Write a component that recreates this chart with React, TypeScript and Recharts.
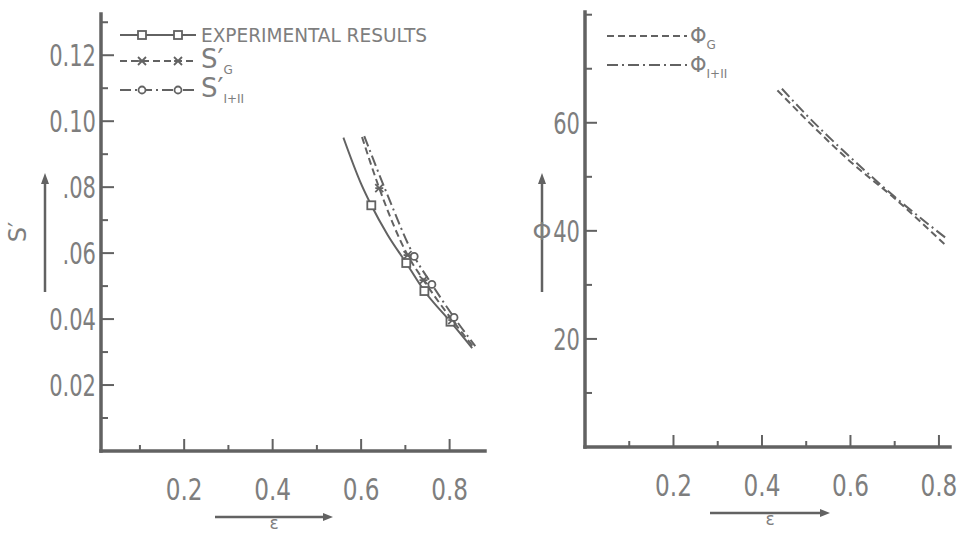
import React from 'react';
import { ComposedChart, Line, Scatter, XAxis, YAxis, Legend } from 'recharts';

const INK = '#626262';
const TXT = '#7e7e7e';
const FONT = "'DejaVu Sans Condensed', 'DejaVu Sans', sans-serif";

// epsilon axis (both panels)
const epsTicks = [0.1, 0.2, 0.3, 0.4, 0.5, 0.6, 0.7, 0.8];
const epsLabelVals = [0.2, 0.4, 0.6, 0.8];
const epsLabelText = ['0.2', '0.4', '0.6', '0.8'];

// S' axis (left panel)
const sTicks = [0.01, 0.02, 0.03, 0.04, 0.05, 0.06, 0.07, 0.08, 0.09, 0.1, 0.11, 0.12, 0.13];
const sLabelVals = [0.02, 0.04, 0.06, 0.08, 0.1, 0.12];
const sLabelText = ['0.02', '0.04', '.06', '.08', '0.10', '0.12'];

// Phi axis (right panel)
const phiTicks = [10, 20, 30, 40, 50, 60, 70, 80];
const phiLabelVals = [20, 40, 60];
const phiLabelText = ['20', '40', '60'];

// experimental results: smooth curve and measured points
const expEps = [0.56, 0.6, 0.623, 0.66, 0.702, 0.743, 0.802, 0.851];
const expS = [0.095, 0.081, 0.0745, 0.0655, 0.057, 0.0485, 0.0392, 0.0312];
const expPtEps = [0.623, 0.702, 0.743, 0.802];
const expPtS = [0.0745, 0.057, 0.0485, 0.0392];

// S'_G
const sgEps = [0.602, 0.641, 0.705, 0.741, 0.806, 0.856];
const sgS = [0.0952, 0.0797, 0.0594, 0.0518, 0.0397, 0.0312];
const sgPtEps = [0.641, 0.705, 0.741, 0.806];
const sgPtS = [0.0797, 0.0594, 0.0518, 0.0397];

// S'_I+II
const s12Eps = [0.607, 0.66, 0.72, 0.76, 0.81, 0.858];
const s12S = [0.0955, 0.0775, 0.059, 0.0505, 0.0405, 0.0318];
const s12PtEps = [0.72, 0.76, 0.81];
const s12PtS = [0.059, 0.0505, 0.0405];

// Phi_G and Phi_I+II
const phiGEps = [0.435, 0.5, 0.6, 0.7, 0.817];
const phiG = [66.0, 60.6, 52.8, 46.0, 37.2];
const phi12Eps = [0.445, 0.5, 0.6, 0.7, 0.817];
const phi12 = [66.3, 61.5, 53.6, 46.3, 38.6];

const pts = (xs: number[], ys: number[]) => xs.map((x, i) => ({ x, y: ys[i] }));

const frameLine = { stroke: INK, strokeWidth: 3.5, strokeLinecap: 'square' as const };
const DASH = '7 4';
const DASHDOT = '11 4 2 4';

function findLabel(vals: number[], v: number) {
  return vals.findIndex((u) => Math.abs(u - v) < 1e-9);
}

// narrow, tall numerals like the stencil lettering of the original
function Num({ x, y, anchor, sx = 0.78, children }: any) {
  return (
    <text
      transform={`translate(${x},${y}) scale(${sx},1)`}
      textAnchor={anchor}
      fill={TXT}
      fontSize={30}
      fontFamily={FONT}
    >
      {children}
    </text>
  );
}

function LeftTick(props: any) {
  const { x, y, payload, vals, texts, long, short } = props;
  const i = findLabel(vals, payload.value);
  return (
    <g>
      <line x1={x} x2={x + (i >= 0 ? long : short)} y1={y} y2={y} stroke={INK} strokeWidth={2} />
      {i >= 0 && (
        <Num x={x - 5} y={y + 11} anchor="end">
          {texts[i]}
        </Num>
      )}
    </g>
  );
}

function BottomTick(props: any) {
  const { x, y, payload } = props;
  const i = findLabel(epsLabelVals, payload.value);
  return (
    <g>
      <line x1={x} x2={x} y1={y} y2={y - (i >= 0 ? 12 : 6)} stroke={INK} strokeWidth={2} />
      {i >= 0 && (
        <Num x={x} y={y + 49} anchor="middle" sx={0.86}>
          {epsLabelText[i]}
        </Num>
      )}
    </g>
  );
}

function EpsLabel({ viewBox, from, to }: any) {
  const { x, y } = viewBox;
  const ay = y + 66;
  return (
    <g>
      <line x1={x + from} x2={x + to - 8} y1={ay} y2={ay} stroke={INK} strokeWidth={2.5} />
      <polygon points={`${x + to},${ay} ${x + to - 10},${ay - 4} ${x + to - 10},${ay + 4}`} fill={INK} />
      <text x={x + (from + to) / 2} y={y + 78} textAnchor="middle" fill={TXT} fontSize={17} fontFamily="'DejaVu Sans', sans-serif">
        ε
      </text>
    </g>
  );
}

function VertLabel({ viewBox, dx, symbol, sx, rotate }: any) {
  const ax = viewBox.x + viewBox.width + dx;
  return (
    <g>
      <line x1={ax} x2={ax} y1={183} y2={292} stroke={INK} strokeWidth={2.5} />
      <polygon points={`${ax},${173} ${ax - 4},${184} ${ax + 4},${184}`} fill={INK} />
      <text
        x={ax + sx}
        y={240}
        textAnchor="middle"
        fill={TXT}
        fontSize={24}
        fontFamily="'DejaVu Sans', sans-serif"
        transform={rotate ? `rotate(-90 ${ax + sx} 232)` : undefined}
      >
        {symbol}
      </text>
    </g>
  );
}

function Square({ cx, cy }: any) {
  return <rect x={cx - 4} y={cy - 4} width={8} height={8} fill="#fff" stroke={INK} strokeWidth={1.8} />;
}
function Cross({ cx, cy }: any) {
  return (
    <g stroke={INK} strokeWidth={1.8}>
      <line x1={cx - 4} x2={cx + 4} y1={cy - 4} y2={cy + 4} />
      <line x1={cx - 4} x2={cx + 4} y1={cy + 4} y2={cy - 4} />
      <line x1={cx - 4} x2={cx + 4} y1={cy} y2={cy} />
    </g>
  );
}
function Ring({ cx, cy }: any) {
  return <circle cx={cx} cy={cy} r={3.5} fill="#fff" stroke={INK} strokeWidth={1.8} />;
}

function Sym({ base, sub, size = 26 }: { base: string; sub: string; size?: number }) {
  return (
    <>
      <tspan fontSize={size}>{base}</tspan>
      <tspan fontSize={12} dy={6}>{sub}</tspan>
    </>
  );
}

function LeftLegend() {
  const rows = [
    { dash: undefined, Mark: Square, y: 14, label: 'EXPERIMENTAL RESULTS' },
    { dash: DASH, Mark: Cross, y: 40, label: null, sym: { base: 'S\u2032', sub: 'G' } },
    { dash: DASHDOT, Mark: Ring, y: 69, label: null, sym: { base: 'S\u2032', sub: 'I+II' } },
  ];
  return (
    <svg width={320} height={90} style={{ overflow: 'visible' }}>
      {rows.map((r, k) => (
        <g key={k}>
          <line x1={0} x2={76} y1={r.y} y2={r.y} stroke={INK} strokeWidth={2} strokeDasharray={r.dash} />
          <r.Mark cx={22} cy={r.y} />
          <r.Mark cx={58} cy={r.y} />
          {r.label ? (
            <text x={81} y={r.y + 7} fill={TXT} fontSize={19} fontFamily={FONT} textLength={226} lengthAdjust="spacingAndGlyphs">
              {r.label}
            </text>
          ) : (
            <text x={81} y={r.y + 7} fill={TXT} fontFamily="'DejaVu Sans', sans-serif">
              <Sym base={r.sym!.base} sub={r.sym!.sub} />
            </text>
          )}
        </g>
      ))}
    </svg>
  );
}

function RightLegend() {
  const rows = [
    { dash: DASH, y: 11, sub: 'G' },
    { dash: DASHDOT, y: 40, sub: 'I+II' },
  ];
  return (
    <svg width={140} height={60} style={{ overflow: 'visible' }}>
      {rows.map((r, k) => (
        <g key={k}>
          <line x1={0} x2={80} y1={r.y} y2={r.y} stroke={INK} strokeWidth={2} strokeDasharray={r.dash} />
          <text x={83} y={r.y + 7} fill={TXT} fontFamily="'DejaVu Sans', sans-serif">
            <Sym base={'\u03A6'} sub={r.sub} size={21} />
          </text>
        </g>
      ))}
    </svg>
  );
}

function SPanel() {
  const xDomain: [number, number] = [0.012, 0.88];
  const yDomain: [number, number] = [0, 0.1325];
  return (
    <ComposedChart width={500} height={533} margin={{ top: 14, right: 15, bottom: 22, left: 41 }}>
      <XAxis
        xAxisId={0}
        type="number"
        dataKey="x"
        domain={xDomain}
        allowDataOverflow
        ticks={epsTicks}
        interval={0}
        height={60}
        tickSize={0}
        tickMargin={0}
        tickLine={false}
        axisLine={frameLine}
        tick={(p: any) => <BottomTick {...p} />}
        label={{ content: (p: any) => <EpsLabel {...p} from={114} to={232} /> }}
      />
      <XAxis xAxisId="top" orientation="top" type="number" domain={xDomain} height={0} tick={false} tickLine={false} axisLine={frameLine} />
      <YAxis
        yAxisId={0}
        type="number"
        dataKey="y"
        domain={yDomain}
        allowDataOverflow
        ticks={sTicks}
        interval={0}
        width={60}
        tickSize={0}
        tickMargin={0}
        tickLine={false}
        axisLine={frameLine}
        tick={(p: any) => <LeftTick {...p} vals={sLabelVals} texts={sLabelText} long={13} short={7} />}
        label={{ content: (p: any) => <VertLabel {...p} dx={-56} symbol={'S\u2032'} sx={-27} rotate /> }}
      />
      <YAxis yAxisId="right" orientation="right" type="number" domain={yDomain} width={0} tick={false} tickLine={false} axisLine={frameLine} />
      <Legend
        layout="vertical"
        align="center"
        verticalAlign="middle"
        wrapperStyle={{ left: 120, top: 21, width: 320 }}
        content={() => <LeftLegend />}
      />
      <Line data={pts(expEps, expS)} dataKey="y" name="experimental" type="monotone" stroke={INK} strokeWidth={2} dot={false} isAnimationActive={false} />
      <Line data={pts(sgEps, sgS)} dataKey="y" name="S'G" type="monotone" stroke={INK} strokeWidth={2} strokeDasharray={DASH} dot={false} isAnimationActive={false} />
      <Line data={pts(s12Eps, s12S)} dataKey="y" name="S'I+II" type="monotone" stroke={INK} strokeWidth={2} strokeDasharray={DASHDOT} dot={false} isAnimationActive={false} />
      <Scatter data={pts(expPtEps, expPtS)} legendType="none" shape={(p: any) => <Square {...p} />} isAnimationActive={false} />
      <Scatter data={pts(sgPtEps, sgPtS)} legendType="none" shape={(p: any) => <Cross {...p} />} isAnimationActive={false} />
      <Scatter data={pts(s12PtEps, s12PtS)} legendType="none" shape={(p: any) => <Ring {...p} />} isAnimationActive={false} />
    </ComposedChart>
  );
}

function PhiPanel() {
  const xDomain: [number, number] = [0, 0.825];
  const yDomain: [number, number] = [0, 80.5];
  return (
    <ComposedChart width={461} height={533} margin={{ top: 12, right: 11, bottom: 26, left: 25 }}>
      <XAxis
        xAxisId={0}
        type="number"
        dataKey="x"
        domain={xDomain}
        allowDataOverflow
        ticks={epsTicks}
        interval={0}
        height={60}
        tickSize={0}
        tickMargin={0}
        tickLine={false}
        axisLine={frameLine}
        tick={(p: any) => <BottomTick {...p} />}
        label={{ content: (p: any) => <EpsLabel {...p} from={125} to={245} /> }}
      />
      <XAxis xAxisId="top" orientation="top" type="number" domain={xDomain} height={0} tick={false} tickLine={false} axisLine={frameLine} />
      <YAxis
        yAxisId={0}
        type="number"
        dataKey="y"
        domain={yDomain}
        allowDataOverflow
        ticks={phiTicks}
        interval={0}
        width={60}
        tickSize={0}
        tickMargin={0}
        tickLine={false}
        axisLine={frameLine}
        tick={(p: any) => <LeftTick {...p} vals={phiLabelVals} texts={phiLabelText} long={12} short={7} />}
        label={{ content: (p: any) => <VertLabel {...p} dx={-43} symbol={'\u03A6'} sx={0} /> }}
      />
      <YAxis yAxisId="right" orientation="right" type="number" domain={yDomain} width={0} tick={false} tickLine={false} axisLine={frameLine} />
      <Legend
        layout="vertical"
        align="center"
        verticalAlign="middle"
        wrapperStyle={{ left: 107, top: 25, width: 140 }}
        content={() => <RightLegend />}
      />
      <Line data={pts(phiGEps, phiG)} dataKey="y" name="PhiG" type="monotone" stroke={INK} strokeWidth={2} strokeDasharray={DASH} dot={false} isAnimationActive={false} />
      <Line data={pts(phi12Eps, phi12)} dataKey="y" name="PhiI+II" type="monotone" stroke={INK} strokeWidth={2} strokeDasharray={DASHDOT} dot={false} isAnimationActive={false} />
    </ComposedChart>
  );
}

export default function App() {
  return (
    <div style={{ position: 'absolute', left: 0, top: 0, width: 961, height: 533, background: '#fff', overflow: 'hidden' }}>
      <div style={{ position: 'absolute', left: 0, top: 0 }}>
        <SPanel />
      </div>
      <div style={{ position: 'absolute', left: 500, top: 0 }}>
        <PhiPanel />
      </div>
    </div>
  );
}
